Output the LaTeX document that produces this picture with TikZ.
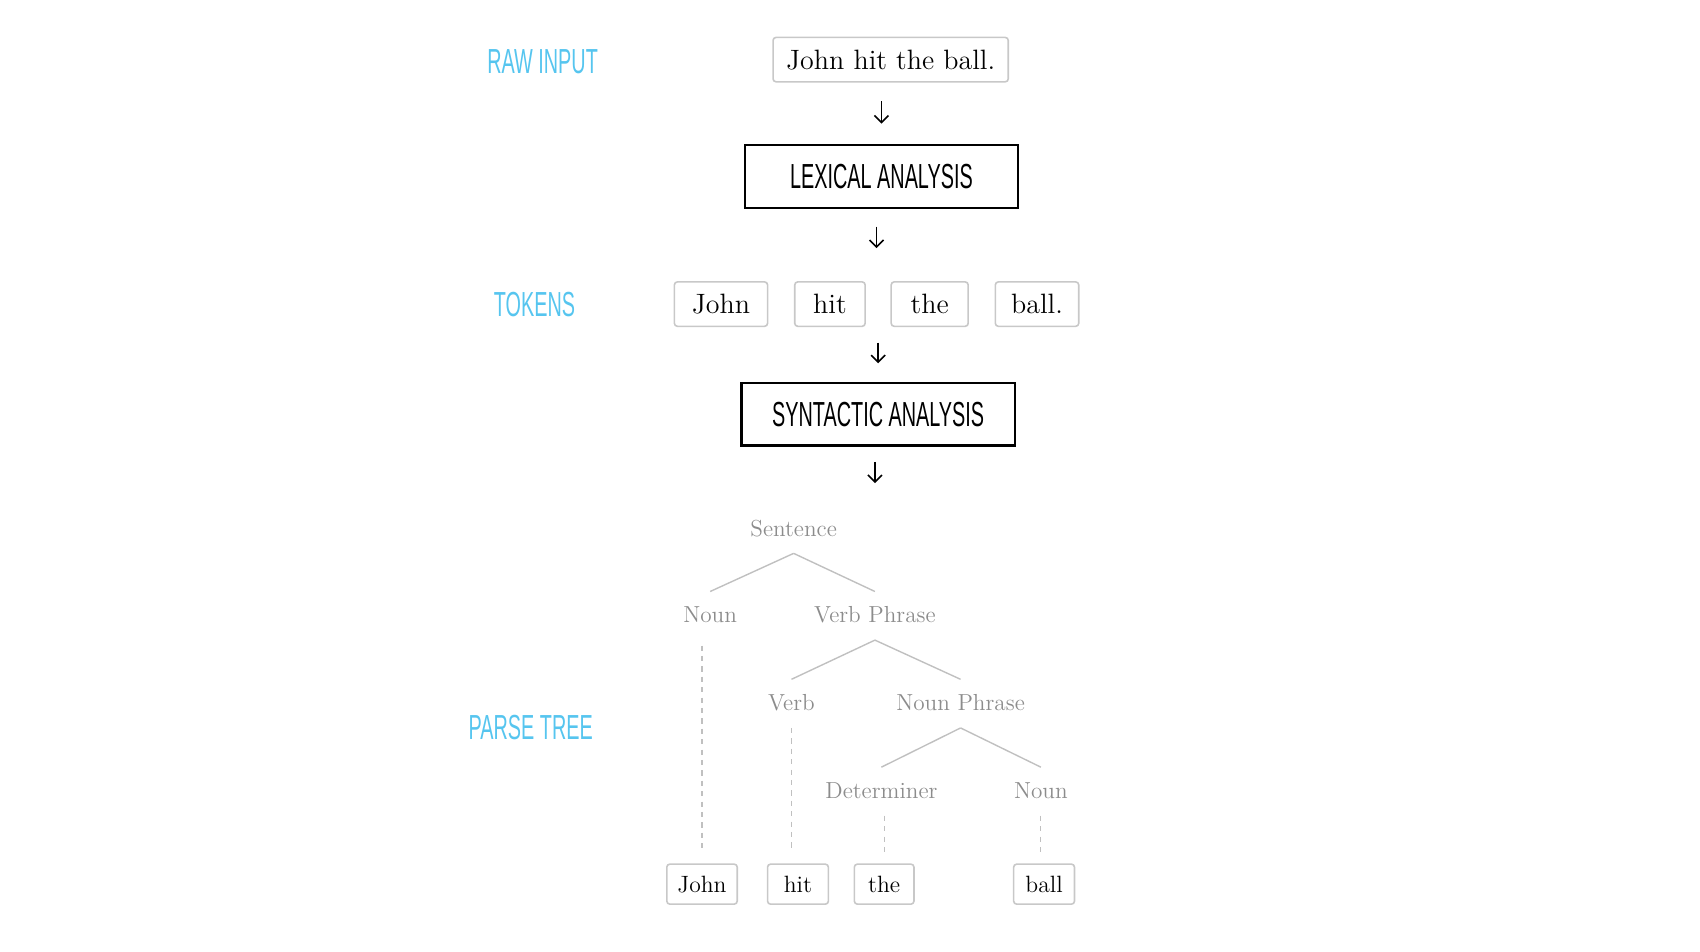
\documentclass[tikz,border=0pt]{standalone}
\usepackage{fontspec}
\usepackage{tikz}
\usetikzlibrary{arrows.meta, positioning, fit}
\usepackage{xcolor}
\newfontfamily\condfont[FakeStretch=0.57]{Liberation Sans}
\definecolor{stagelabel}{HTML}{56C5EF}
\definecolor{tokenedge}{HTML}{C8C8C8}
\definecolor{treegray}{HTML}{8C8C8C}
\definecolor{branchgray}{HTML}{C0C0C0}
\tikzset{
    stage/.style={
        font=\condfont\fontsize{17.4}{20}\selectfont, text=stagelabel, inner sep=0pt
    },
    analysis/.style={
        rectangle, draw=black, line width=1.1pt, minimum width=136.6pt, minimum height=31.4pt,
        font=\condfont\fontsize{17.4}{20}\selectfont, text centered
    },
    token/.style={
        rectangle, rounded corners=1.5pt, draw=tokenedge, line width=0.8pt,
        minimum height=22.2pt, font=\fontsize{14}{16}\selectfont, text centered
    },
    leafword/.style={
        rectangle, rounded corners=1.5pt, draw=tokenedge, line width=0.8pt,
        minimum height=20pt, font=\fontsize{11.8}{13}\selectfont, text centered
    },
    treelabel/.style={
        inner sep=0pt, text height=7pt, text depth=0pt, minimum height=23.9pt,
        font=\fontsize{11.6}{13}\selectfont, text=treegray
    },
    flow/.style={
        -{Straight Barb[length=3.5pt, width=7pt]}, line width=0.8pt, draw=black
    },
    branch/.style={
        line width=0.7pt, draw=branchgray
    },
    leaf/.style={
        line width=0.6pt, draw=branchgray, dash pattern=on 2.6pt off 2.6pt
    }
}
\begin{document}
\begin{tikzpicture}[x=0.5421pt, y=-0.5421pt]

    \useasboundingbox (0,0) rectangle (1568,878);

    % ── Stage labels ──
    \node[stage] (rawlbl)   at (500.5,57)  {RAW INPUT};
    \node[stage] (toklbl)   at (493,281)   {TOKENS};
    \node[stage] (treelbl)  at (489.5,671) {PARSE TREE};

    % ── Main flow ──
    \node[token, minimum width=117.6pt] (input) at (821.5,55) {John hit the ball.};
    \node[analysis] (lex) at (813,163) {LEXICAL ANALYSIS};

    \node[token, minimum width=46.6pt] (t1) at (665,280.5)   {John};
    \node[token, minimum width=35.2pt] (t2) at (765.5,280.5) {hit};
    \node[token, minimum width=38.5pt] (t3) at (857.5,280.5) {the};
    \node[token, minimum width=41.7pt] (t4) at (956.5,280.5) {ball.};
    \node[fit=(t1)(t4), inner sep=0pt] (toks) {};

    \node[analysis] (syn) at (810,382) {SYNTACTIC ANALYSIS};

    % ── Parse tree ──
    \node[treelabel] (sent) at (732,488) {Sentence};
    \node[treelabel] (n1)   at (655,568) {Noun};
    \node[treelabel] (vp)   at (807,568) {Verb Phrase};
    \node[treelabel] (v)    at (730,649) {Verb};
    \node[treelabel] (np)   at (886,649) {Noun Phrase};
    \node[treelabel] (det)  at (813,730) {Determiner};
    \node[treelabel] (n2)   at (960,730) {Noun};

    \node[leafword, minimum width=35.2pt] (w1) at (647.5,815.5) {John};
    \node[leafword, minimum width=30.4pt] (w2) at (736,815.5)   {hit};
    \node[leafword, minimum width=29.8pt] (w3) at (815.5,815.5) {the};
    \node[leafword, minimum width=30.4pt] (w4) at (963,815.5)   {ball};

    % ── Arrows ──
    \draw[flow, shorten <=9.2pt, shorten >=10.3pt] (input.south -| lex.north) -- (lex.north);
    \draw[flow, shorten <=8.7pt, shorten >=16.3pt] (lex.south -| toks.north) -- (toks.north);
    \draw[flow, shorten <=7.6pt, shorten >=9.2pt]  (toks.south -| syn.north) -- (syn.north);
    \draw[flow, shorten <=7.6pt, shorten >=10.8pt] (syn.south -| vp.north) -- (vp.north |- sent.north);

    % ── Branches ──
    \draw[branch] (sent.south) -- (n1.north);
    \draw[branch] (sent.south) -- (vp.north);
    \draw[branch] (vp.south)   -- (v.north);
    \draw[branch] (vp.south)   -- (np.north);
    \draw[branch] (np.south)   -- (det.north);
    \draw[branch] (np.south)   -- (n2.north);

    % ── Leaves ──
    \draw[leaf, shorten <=2.7pt, shorten >=6.5pt] (n1.south -| w1.north) -- (w1.north);
    \draw[leaf, shorten >=5.4pt] (v.south)  -- (v.south |- w2.north);
    \draw[leaf, shorten >=5.4pt] (w3.north |- det.south) -- (w3.north);
    \draw[leaf, shorten >=5.4pt] (n2.south) -- (n2.south |- w4.north);

\end{tikzpicture}
\end{document}
